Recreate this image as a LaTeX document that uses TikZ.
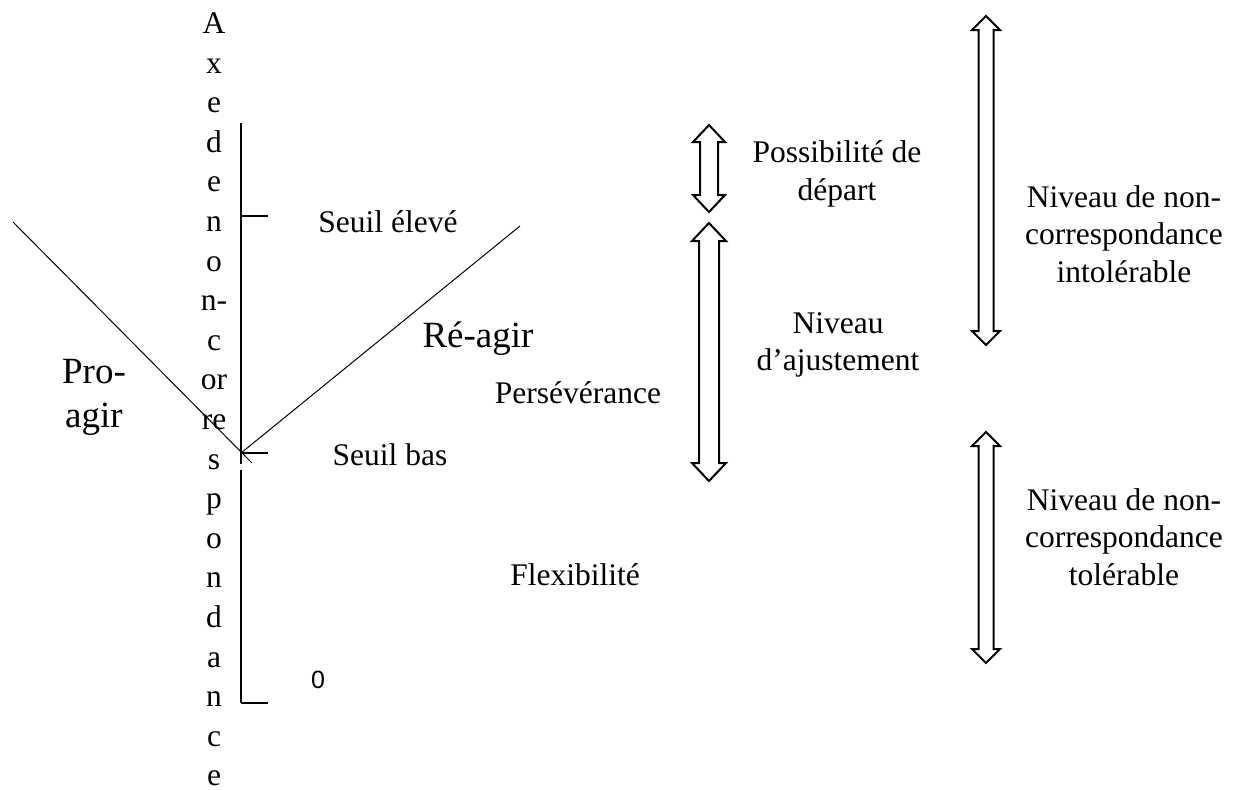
\documentclass[tikz,border=0pt]{standalone}
\usepackage{fontspec}
\setmainfont{Liberation Serif}
\newfontfamily\zerofont{Liberation Sans}
\usetikzlibrary{calc}

% block double arrow: x, top, bottom, half head, half shaft, head length, name
\newcommand{\dblarrow}[7]{%
  \draw[blockarrow] (#1,#2) -- (#1+#4,#2+#6) -- (#1+#5,#2+#6) -- (#1+#5,#3-#6)
    -- (#1+#4,#3-#6) -- (#1,#3) -- (#1-#4,#3-#6) -- (#1-#5,#3-#6)
    -- (#1-#5,#2+#6) -- (#1-#4,#2+#6) -- cycle;
  \coordinate (#7) at (#1,{(#2+#3)/2});}

\begin{document}
\begin{tikzpicture}[x=0.4pt,y=-0.4pt]
    % `txt' is used for the ordinary labels, `bigtxt' for Pro-agir and Re-agir.
    % `axis' for the vertical axis and its ticks, `diag' for the two slopes.
    \tikzstyle{txt} = [font=\fontsize{12.6}{15}\selectfont,inner sep=0pt,align=center]
    \tikzstyle{bigtxt} = [font=\fontsize{14.8}{17.6}\selectfont,inner sep=0pt,align=center]
    \tikzstyle{axis} = [line width=0.6pt]
    \tikzstyle{diag} = [line width=0.4pt]
    \tikzstyle{blockarrow} = [line width=0.8pt,fill=white,line join=miter]
    %
    \useasboundingbox (0,0) rectangle (1238,789);
    % Axis letters, one per line.
    \foreach \l [count=\i] in {A,x,e,d,e,n,o,n-,c,or,re,s,p,o,n,d,a,n,c,e}
      \node[txt,anchor=base] (ax\i) at (214,{33.5+39.6*(\i-1)}) {\l};
    %
    \coordinate (top) at (241,123);
    \coordinate (high) at (241,216);
    \coordinate (low) at (241,453);
    \coordinate (gapa) at (241,464);
    \coordinate (gapb) at (241,470);
    \coordinate (zero) at (241,703);
    \draw[axis] (top) -- (gapa) (gapb) -- (zero);
    \draw[axis] (high) -- ++(27,0) (low) -- ++(27,0) (zero) -- ++(27,0);
    % Slopes.
    \coordinate (proend) at (13,222);
    \coordinate (procross) at (252,463);
    \coordinate (reend) at (520,226);
    \draw[diag] (proend) -- (procross);
    \draw[diag] (reend) -- (low);
    %
    \node[txt,anchor=base] (seuilhaut) at (388,232) {Seuil élevé};
    \node[txt,anchor=base] (seuilbas) at (390,465) {Seuil bas};
    \node[bigtxt,anchor=base] (reagir) at (478,347) {Ré-agir};
    \node[bigtxt] (proagir) at (94,397) {Pro-\\agir};
    \node[txt,anchor=base] (perse) at (578,403) {Persévérance};
    \node[txt,anchor=base] (flexi) at (575,585) {Flexibilité};
    \node[font=\zerofont\fontsize{10}{12}\selectfont,inner sep=0pt,anchor=base] (nul) at (318,688) {0};
    %
    \dblarrow{709}{125}{212}{16}{9}{17}{depart}
    \dblarrow{709}{223}{481}{17}{10}{18}{ajust}
    \dblarrow{986}{16}{345}{14}{7.5}{14}{intol}
    \dblarrow{986}{432}{663}{14}{7.5}{14}{tol}
    %
    \node[txt] (possib) at (837,174) {Possibilité de\\départ};
    \node[txt] (niveau) at (838,345) {Niveau\\d’ajustement};
    \node[txt] (intoltxt) at (1124,234) {Niveau de non-\\correspondance\\intolérable};
    \node[txt] (toltxt) at (1124,537) {Niveau de non-\\correspondance\\tolérable};
\end{tikzpicture}
\end{document}
